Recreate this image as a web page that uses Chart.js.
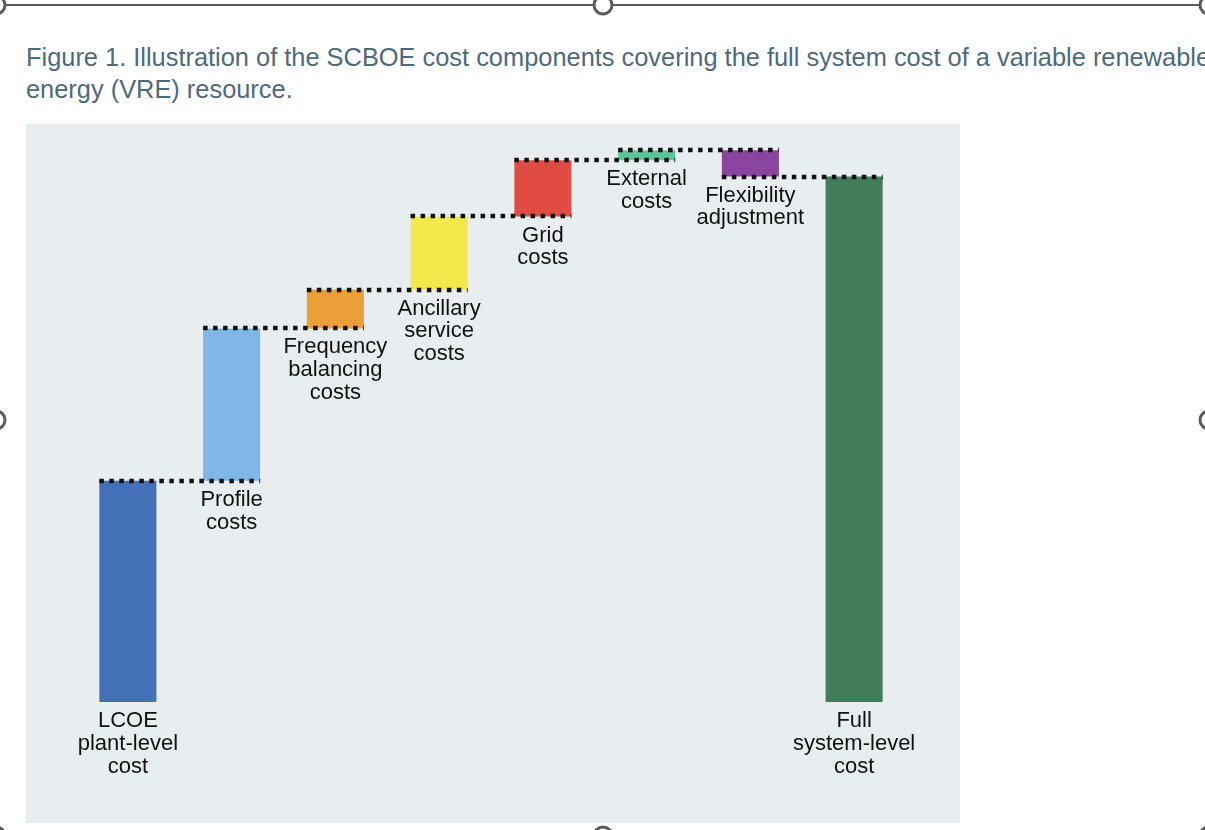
<!DOCTYPE html>
<html>
<head>
<meta charset="utf-8">
<script src="https://cdn.jsdelivr.net/npm/chart.js@4.4.0/dist/chart.umd.min.js"></script>
<style>
  html, body { margin: 0; padding: 0; background: #fff; overflow: hidden; }
  body { width: 1205px; height: 830px; position: relative; font-family: "Liberation Sans", Arial, sans-serif; }
  #title {
    position: absolute; left: 26px; top: 41px; width: 1300px;
    font-size: 25.4px; line-height: 32px; color: #4d6a7d; white-space: nowrap;
  }
  #panel { position: absolute; left: 26px; top: 124px; width: 934px; height: 699px; background: #e8edf0; }
  #frame { position: absolute; left: 0; top: 0; width: 1205px; height: 830px; pointer-events: none; }
</style>
</head>
<body>
<div id="title">Figure 1. Illustration of the SCBOE cost components covering the full system cost of a variable renewable<br>energy (VRE) resource.</div>
<div id="panel"><canvas id="chart" width="934" height="699"></canvas></div>
<svg id="frame" width="1205" height="830">
  <line x1="0" y1="5" x2="1205" y2="5" stroke="#5c5c5c" stroke-width="2"/>
  <g fill="#fff" stroke="#5c5c5c" stroke-width="3">
    <circle cx="-4" cy="5" r="9"/>
    <circle cx="603" cy="5" r="9"/>
    <circle cx="1209" cy="5" r="9"/>
    <circle cx="-4" cy="420" r="9"/>
    <circle cx="1209" cy="420" r="9"/>
    <circle cx="-4" cy="836" r="9"/>
    <circle cx="603" cy="836" r="9"/>
    <circle cx="1209" cy="836" r="9"/>
  </g>
</svg>
<script>
// cost components, arbitrary units (full system cost = 100)
const labels = [
  ["LCOE", "plant-level", "cost"],
  ["Profile", "costs"],
  ["Frequency", "balancing", "costs"],
  ["Ancillary", "service", "costs"],
  ["Grid", "costs"],
  ["External", "costs"],
  ["Flexibility", "adjustment"],
  ["Full", "system-level", "cost"]
];
const steps = [42.1, 29.0, 7.4, 13.9, 10.7, 1.9, -5.0];
const colors = ["#4470b8", "#7fb8e6", "#eb9f39", "#f4e84b", "#e04c41", "#5ec49a", "#8a45a0", "#437c5a"];

// floating bars: each step starts where the previous one ended, last bar is the total
const ranges = [];
let running = 0;
steps.forEach(v => {
  ranges.push([running, running + v]);
  running += v;
});
ranges.push([0, running]);
const levels = ranges.slice(0, -1).map(r => r[1]);

const waterfallDecor = {
  id: "waterfallDecor",
  afterDatasetsDraw(chart) {
    const ctx = chart.ctx;
    const bars = chart.getDatasetMeta(0).data;
    const y = chart.scales.y;

    // dotted connectors
    ctx.save();
    ctx.strokeStyle = "#111";
    ctx.lineWidth = 4.5;
    ctx.setLineDash([4.5, 5.5]);
    levels.forEach((lv, i) => {
      const a = bars[i], b = bars[i + 1];
      const py = Math.round(y.getPixelForValue(lv));
      ctx.beginPath();
      ctx.moveTo(a.x - a.width / 2, py);
      ctx.lineTo(b.x + b.width / 2, py);
      ctx.stroke();
    });
    ctx.restore();

    // labels under each bar
    ctx.save();
    ctx.fillStyle = "#111";
    ctx.font = "22px 'Liberation Sans', Arial, sans-serif";
    ctx.textAlign = "center";
    ctx.textBaseline = "middle";
    bars.forEach((bar, i) => {
      const bottom = Math.max(y.getPixelForValue(ranges[i][0]), y.getPixelForValue(ranges[i][1]));
      labels[i].forEach((line, j) => {
        ctx.fillText(line, bar.x, bottom + 19 + j * 22.8);
      });
    });
    ctx.restore();
  }
};

new Chart(document.getElementById("chart"), {
  type: "bar",
  data: {
    labels: labels.map(l => l.join(" ")),
    datasets: [{
      data: ranges,
      backgroundColor: colors,
      borderWidth: 0,
      barPercentage: 0.55,
      categoryPercentage: 1.0
    }]
  },
  options: {
    responsive: false,
    animation: false,
    layout: { padding: { left: 50, right: 54, top: 0, bottom: 121 } },
    plugins: { legend: { display: false }, tooltip: { enabled: false } },
    scales: {
      x: { display: false },
      y: { display: false, min: 0, max: 110 }
    }
  },
  plugins: [waterfallDecor]
});
</script>
</body>
</html>
